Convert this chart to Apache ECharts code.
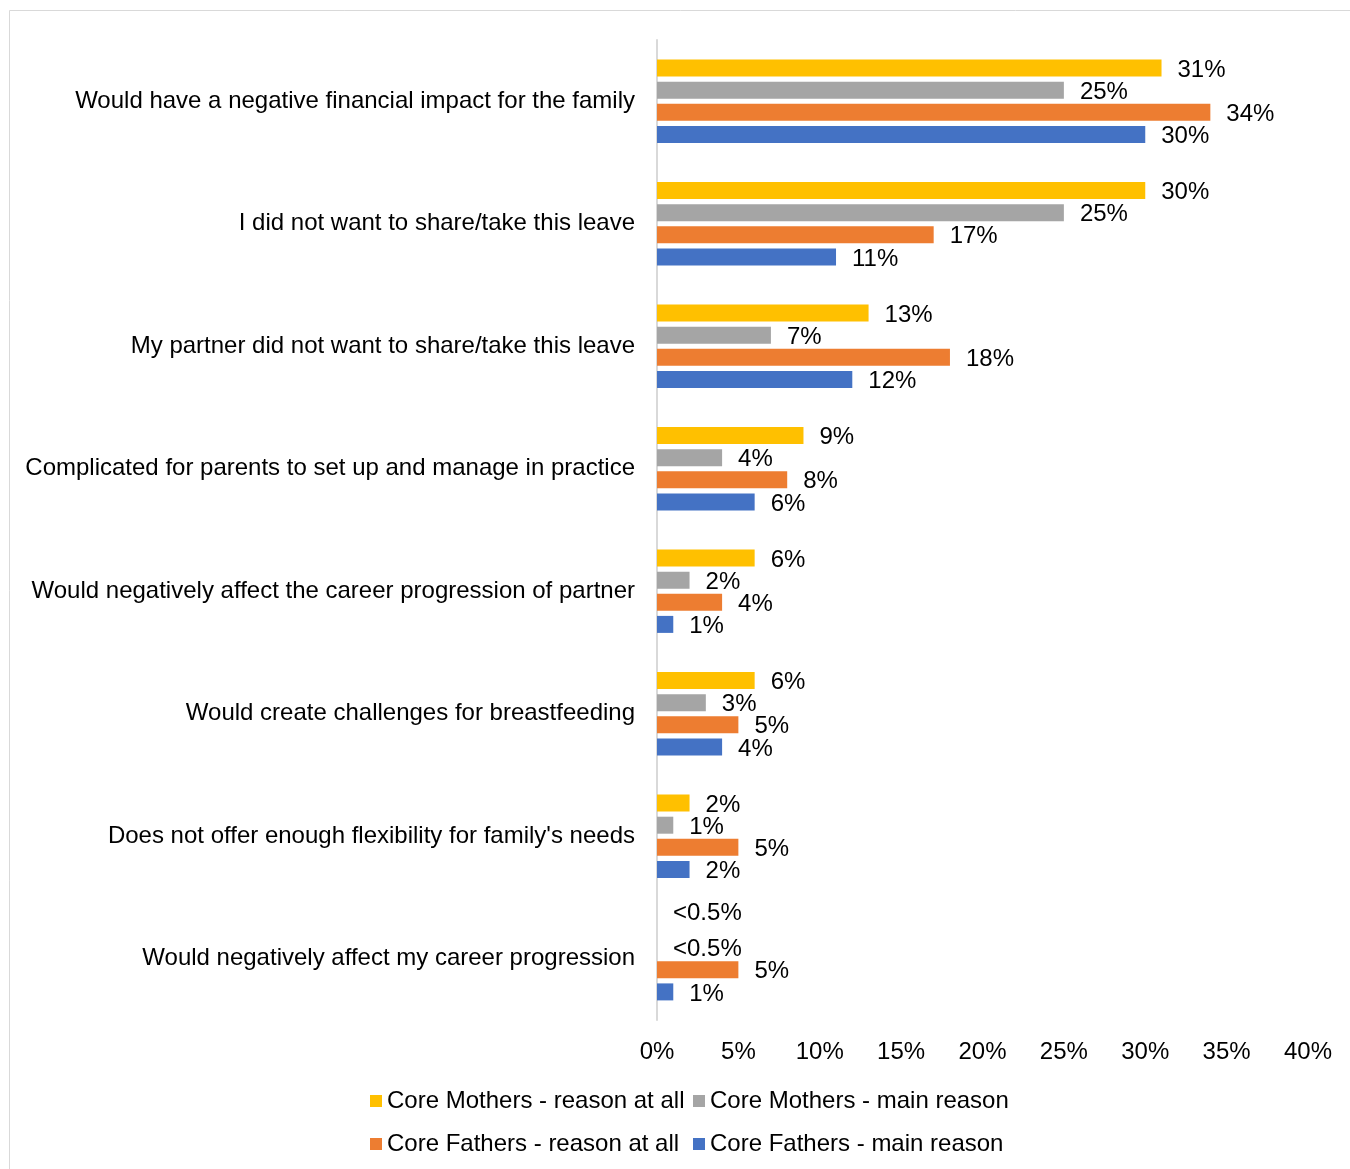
<!DOCTYPE html>
<html>
<head>
<meta charset="utf-8">
<script src="https://cdn.jsdelivr.net/npm/echarts@6/dist/echarts.min.js"></script>
<style>
  html, body { margin: 0; padding: 0; background: #fff; }
  #chart { width: 1350px; height: 1169px; }
</style>
</head>
<body>
<div id="chart"></div>
<script>
// Reasons for not taking shared parental leave (%)
const categories = [
  "Would have a negative financial impact for the family",
  "I did not want to share/take this leave",
  "My partner did not want to share/take this leave",
  "Complicated for parents to set up and manage in practice",
  "Would negatively affect the career progression of partner",
  "Would create challenges for breastfeeding",
  "Does not offer enough flexibility for family's needs",
  "Would negatively affect my career progression"
];
const seriesNames = [
  "Core Mothers - reason at all",
  "Core Mothers - main reason",
  "Core Fathers - reason at all",
  "Core Fathers - main reason"
];
const mothersAtAll  = [31, 30, 13, 9, 6, 6, 2, 0];
const mothersMain   = [25, 25, 7, 4, 2, 3, 1, 0];
const fathersAtAll  = [34, 17, 18, 8, 4, 5, 5, 5];
const fathersMain   = [30, 11, 12, 6, 1, 4, 2, 1];
// values reported as "<0.5%" (too small to draw a visible bar)
const belowHalf = [
  [false, false, false, false, false, false, false, true],
  [false, false, false, false, false, false, false, true],
  [false, false, false, false, false, false, false, false],
  [false, false, false, false, false, false, false, false]
];
const xTicks = [0, 5, 10, 15, 20, 25, 30, 35, 40];
const colors = ["#FFC000", "#A5A5A5", "#ED7D31", "#4472C4"];

const FONT = "Liberation Sans, Arial, sans-serif";
const FS = 24;
const values = [mothersAtAll, mothersMain, fathersAtAll, fathersMain];

const chart = echarts.init(document.getElementById('chart'), null, { renderer: 'canvas' });

const series = values.map((vals, si) => ({
  name: seriesNames[si],
  type: 'bar',
  barWidth: 17,
  barGap: '30%',
  barCategoryGap: '31%',
  itemStyle: { color: colors[si] },
  data: vals.map((v, i) => {
    const item = { value: v };
    // lift the first "<0.5%" label so the two stacked ones don't collide
    if (belowHalf[si][i] && si === 0) item.label = { offset: [0, -12] };
    return item;
  }),
  label: {
    show: true,
    position: 'right',
    distance: 16,
    offset: [0, 2],
    color: '#000',
    fontFamily: FONT,
    fontSize: FS,
    formatter: p => belowHalf[si][p.dataIndex] ? '<0.5%' : p.value + '%'
  }
}));

const legendBase = {
  orient: 'horizontal',
  padding: 0,
  itemWidth: 12,
  itemHeight: 12,
  itemGap: 6,
  icon: 'rect',
  textStyle: { fontFamily: FONT, fontSize: FS, color: '#000' }
};

chart.setOption({
  backgroundColor: '#fff',
  animation: false,
  graphic: [{
    type: 'rect',
    shape: { x: 9.5, y: 10.5, width: 1400, height: 1200 },
    style: { fill: 'none', stroke: '#D9D9D9', lineWidth: 1 },
    silent: true
  }],
  grid: { left: 657, right: 42, top: 40, bottom: 149, containLabel: false },
  xAxis: {
    type: 'value',
    min: xTicks[0],
    max: xTicks[xTicks.length - 1],
    interval: 5,
    axisLine: { show: false },
    axisTick: { show: false },
    splitLine: { show: false },
    axisLabel: {
      formatter: v => v + '%',
      color: '#000',
      fontFamily: FONT,
      fontSize: FS,
      margin: 20
    }
  },
  yAxis: {
    type: 'category',
    data: categories,
    inverse: true,
    axisLine: { show: true, lineStyle: { color: '#D9D9D9', width: 2 } },
    axisTick: { show: false },
    axisLabel: {
      color: '#000',
      fontFamily: FONT,
      fontSize: FS,
      margin: 22,
      padding: [4, 0, 0, 0]
    }
  },
  legend: [
    Object.assign({}, legendBase, { data: [seriesNames[0]], left: 370, top: 1089 }),
    Object.assign({}, legendBase, { data: [seriesNames[1]], left: 693, top: 1089 }),
    Object.assign({}, legendBase, { data: [seriesNames[2]], left: 370, top: 1132 }),
    Object.assign({}, legendBase, { data: [seriesNames[3]], left: 693, top: 1132 })
  ],
  series: series
});
</script>
</body>
</html>
